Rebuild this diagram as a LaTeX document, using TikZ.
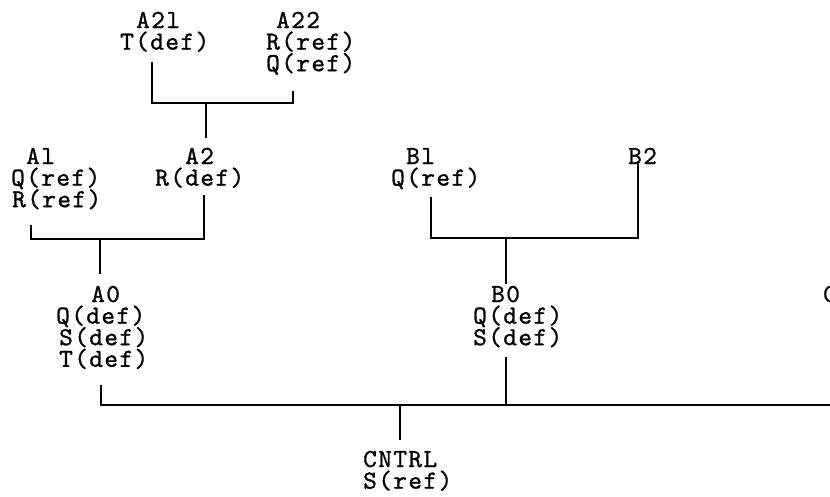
\documentclass[tikz,border=0pt]{standalone}
\usepackage{fontspec}
\newfontfamily\lblfont{lmmono10-regular.otf}[LetterSpace=5.5,FakeBold=1.0]
\usetikzlibrary{calc}
\newcommand{\lblblock}[1]{\vtop{\baselineskip=21.6pt\lineskiplimit=-50pt\lineskip=0pt #1}}
\newcommand{\lblline}[2][0]{\hbox{\hspace*{#1pt}#2}}
\begin{document}
\begin{tikzpicture}[x=1pt,y=-1pt,
  lbl/.style={font=\fontsize{26}{21.6}\selectfont\lblfont, inner sep=0pt, anchor=base west},
  wire/.style={line width=1.4pt, line cap=rect}]
\useasboundingbox (0,0) rectangle (830,496);
\fill[white] (0,0) rectangle (830,496);
\clip (0,0) rectangle (830,496);
% texts
\node[lbl] (a21) at (120,28) {\lblblock{\lblline[16]{A2l}\lblline{T(def)}}};
\node[lbl] (a22) at (266,28) {\lblblock{\lblline[10]{A22}\lblline{R(ref)}\lblline{Q(ref)}}};
\node[lbl] (a1) at (11,164) {\lblblock{\lblline[15]{Al}\lblline{Q(ref)}\lblline[1]{R(ref)}}};
\node[lbl] (a2) at (155,164) {\lblblock{\lblline[30]{A2}\lblline{R(def)}}};
\node[lbl] (a0) at (56,302) {\lblblock{\lblline[35]{A0}\lblline{Q(def)}\lblline[3]{S(def)}\lblline[3]{T(def)}}};
\node[lbl] (b1) at (391,164) {\lblblock{\lblline[15]{Bl}\lblline{Q(ref)}}};
\node[lbl] (b2) at (628,164) {B2};
\node[lbl] (b0) at (473,302) {\lblblock{\lblline[18]{B0}\lblline{Q(def)}\lblline{S(def)}}};
\node[lbl] (cn) at (363,467) {\lblblock{\lblline{CNTRL}\lblline{S(ref)}}};
\node[lbl] (c0) at (823,302) {C0};
% junctions
\coordinate (ja2l) at (152,103);
\coordinate (ja22) at (293,103);
\coordinate (ja2) at (206,103);
\coordinate (ja1l) at (31,239);
\coordinate (ja2r) at (204,239);
\coordinate (ja1) at (100,239);
\coordinate (jb1l) at (431,238);
\coordinate (jb2r) at (638,238);
\coordinate (jb0) at (506,238);
\coordinate (jbA) at (101,405);
\coordinate (jbB) at (506,405);
\coordinate (jbC) at (400,405);
\coordinate (busend) at (840,405);
% connectors
\draw[wire] ($(ja2l |- a21.base)+(0,35)$) -- (ja2l) -- (ja22) -- ($(ja22 |- a22.base)+(0,64)$);
\draw[wire] (ja2) -- ($(ja2 |- a2.base)+(0,-27)$);
\draw[wire] ($(ja1l |- a1.base)+(0,62)$) -- (ja1l) -- (ja2r) -- ($(ja2r |- a2.base)+(0,32)$);
\draw[wire] (ja1) -- ($(ja1 |- a0.base)+(0,-29)$);
\draw[wire] ($(jb1l |- b1.base)+(0,34)$) -- (jb1l) -- (jb2r) -- ($(jb2r |- b2.base)+(0,-2)$);
\draw[wire] (jb0) -- ($(jb0 |- b0.base)+(0,-19)$);
\draw[wire] ($(jbA |- a0.base)+(0,84)$) -- (jbA) -- (busend);
\draw[wire] ($(jbB |- b0.base)+(0,56)$) -- (jbB);
\draw[wire] (jbC) -- ($(jbC |- cn.base)+(0,-28)$);
\end{tikzpicture}
\end{document}
